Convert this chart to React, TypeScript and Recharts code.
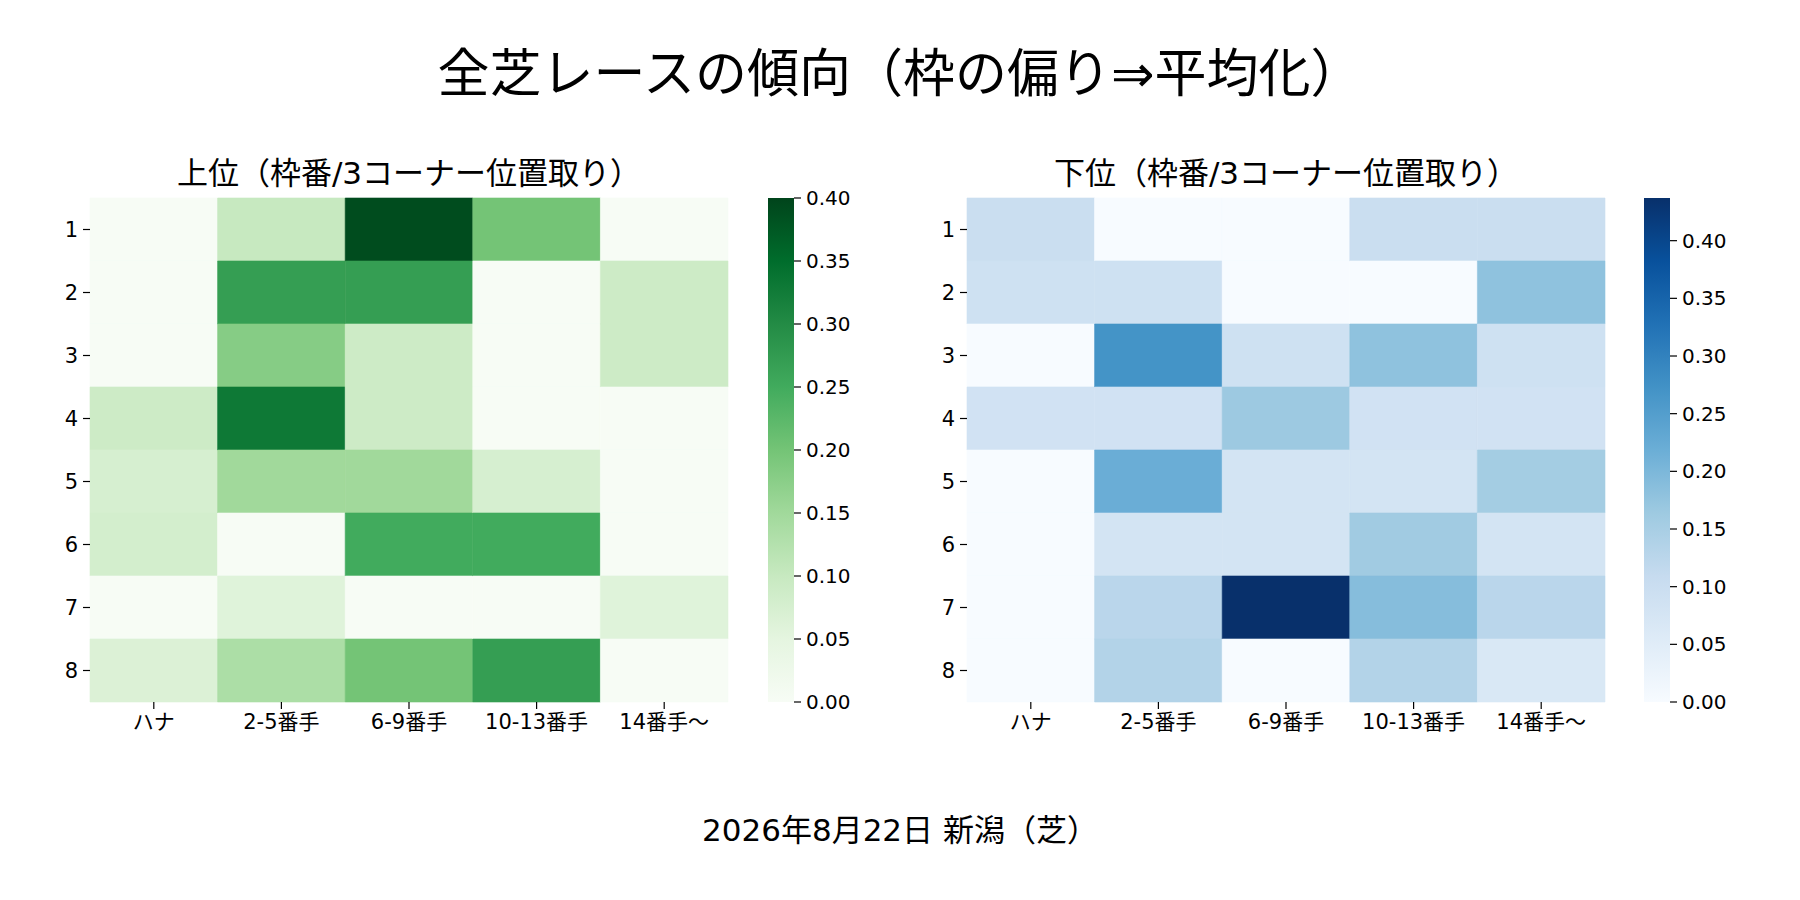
import React from 'react';
import { BarChart, Bar, XAxis, YAxis, Cell } from 'recharts';

const FONT = '"DejaVu Sans", "Noto Sans CJK JP", sans-serif';

const rowLabels = ['1', '2', '3', '4', '5', '6', '7', '8'];
const positionLabels = ['ハナ', '2-5番手', '6-9番手', '10-13番手', '14番手〜'];

const upperValues = [
  [0, 0.1, 0.39, 0.2, 0],
  [0, 0.27, 0.27, 0, 0.09],
  [0, 0.18, 0.09, 0, 0.09],
  [0.09, 0.33, 0.09, 0, 0],
  [0.075, 0.15, 0.15, 0.075, 0],
  [0.08, 0, 0.25, 0.25, 0],
  [0, 0.06, 0, 0, 0.06],
  [0.065, 0.135, 0.2, 0.27, 0],
];

const lowerValues = [
  [0.1, 0, 0, 0.1, 0.1],
  [0.09, 0.09, 0, 0, 0.18],
  [0, 0.27, 0.09, 0.18, 0.09],
  [0.085, 0.085, 0.165, 0.085, 0.085],
  [0, 0.22, 0.08, 0.08, 0.155],
  [0, 0.08, 0.08, 0.16, 0.08],
  [0, 0.125, 0.437, 0.19, 0.125],
  [0, 0.135, 0, 0.135, 0.065],
];

const upperMax = 0.4;
const lowerMax = 0.437;
const colorbarTicks = [0, 0.05, 0.1, 0.15, 0.2, 0.25, 0.3, 0.35, 0.4];

const GREENS = ['#f7fcf5', '#e5f5e0', '#c7e9c0', '#a1d99b', '#74c476', '#41ab5d', '#238b45', '#006d2c', '#00441b'];
const BLUES = ['#f7fbff', '#deebf7', '#c6dbef', '#9ecae1', '#6baed6', '#4292c6', '#2171b5', '#08519c', '#08306b'];

function hexToRgb(h: string) {
  const n = parseInt(h.slice(1), 16);
  return [(n >> 16) & 255, (n >> 8) & 255, n & 255];
}

function cmap(stops: string[], t: number) {
  const c = Math.max(0, Math.min(1, t));
  const pos = c * (stops.length - 1);
  const i = Math.min(stops.length - 2, Math.floor(pos));
  const f = pos - i;
  const a = hexToRgb(stops[i]);
  const b = hexToRgb(stops[i + 1]);
  const r = a.map((v, k) => Math.round(v + (b[k] - v) * f));
  return `rgb(${r[0]},${r[1]},${r[2]})`;
}

const colKeys = positionLabels.map((_, j) => `c${j}`);

function makeRows() {
  return rowLabels.map((r) => {
    const o: any = { row: r };
    colKeys.forEach((k) => (o[k] = 1));
    return o;
  });
}

const tickStyle = { fill: '#000', fontSize: 21, fontFamily: FONT };

function Heatmap({ values, vmax, stops, left }: { values: number[][]; vmax: number; stops: string[]; left: number }) {
  const data = makeRows();
  return (
    <div style={{ position: 'absolute', left: 0, top: 0 }}>
      <BarChart
        width={left + 90 + 638 + 12}
        height={760}
        data={data}
        layout="vertical"
        barCategoryGap={0}
        barGap={0}
        margin={{ top: 198, right: 12, bottom: 18, left }}
      >
        <XAxis
          type="number"
          domain={[0, 5]}
          ticks={[0.5, 1.5, 2.5, 3.5, 4.5]}
          interval={0}
          tickFormatter={(v: number) => positionLabels[Math.floor(v)]}
          axisLine={false}
          tickSize={7}
          tickMargin={5}
          height={40}
          tick={tickStyle}
          tickLine={{ stroke: '#000', strokeWidth: 1.2 }}
        />
        <YAxis
          type="category"
          dataKey="row"
          width={90}
          axisLine={false}
          tickSize={7}
          tickMargin={5}
          interval={0}
          tick={tickStyle}
          tickLine={{ stroke: '#000', strokeWidth: 1.2 }}
        />
        {colKeys.map((k, j) => (
          <Bar key={k} dataKey={k} stackId="a" isAnimationActive={false}>
            {values.map((row, i) => {
              const col = cmap(stops, row[j] / vmax);
              return <Cell key={i} fill={col} stroke={col} strokeWidth={0.6} />;
            })}
          </Bar>
        ))}
      </BarChart>
    </div>
  );
}

function Colorbar({ vmax, stops, left, id }: { vmax: number; stops: string[]; left: number; id: string }) {
  const data = [{ name: 'cb', v: vmax }];
  return (
    <div style={{ position: 'absolute', left: 0, top: 0 }}>
      <BarChart
        width={left + 26 + 80}
        height={760}
        data={data}
        barCategoryGap={0}
        margin={{ top: 198, right: 0, bottom: 58, left }}
      >
        <defs>
          <linearGradient id={id} x1="0" y1="1" x2="0" y2="0">
            {stops.map((s, i) => (
              <stop key={i} offset={`${(i / (stops.length - 1)) * 100}%`} stopColor={s} />
            ))}
          </linearGradient>
        </defs>
        <XAxis dataKey="name" hide />
        <YAxis
          type="number"
          orientation="right"
          domain={[0, vmax]}
          ticks={colorbarTicks}
          interval={0}
          width={80}
          axisLine={false}
          tickSize={7}
          tickMargin={5}
          tickFormatter={(v: number) => v.toFixed(2)}
          tick={{ fill: '#000', fontSize: 20, fontFamily: FONT, textAnchor: 'start' }}
          tickLine={{ stroke: '#000', strokeWidth: 1.2 }}
        />
        <Bar dataKey="v" fill={`url(#${id})`} isAnimationActive={false} />
      </BarChart>
    </div>
  );
}

export default function App() {
  return (
    <div style={{ position: 'absolute', left: 0, top: 0, width: 1800, height: 900, background: '#fff', fontFamily: FONT }}>
      <Heatmap values={upperValues} vmax={upperMax} stops={GREENS} left={0} />
      <Colorbar vmax={upperMax} stops={GREENS} left={768} id="gGreen" />
      <Heatmap values={lowerValues} vmax={lowerMax} stops={BLUES} left={877} />
      <Colorbar vmax={lowerMax} stops={BLUES} left={1644} id="gBlue" />
      <svg width={1800} height={900} style={{ position: 'absolute', left: 0, top: 0, pointerEvents: 'none' }}>
        <text x={900} y={74} textAnchor="middle" dominantBaseline="central" fontSize={52} fontFamily={FONT} fill="#000">
          全芝レースの傾向（枠の偏り⇒平均化）
        </text>
        <text x={409} y={173} textAnchor="middle" dominantBaseline="central" fontSize={31} fontFamily={FONT} fill="#000">
          上位（枠番/3コーナー位置取り）
        </text>
        <text x={1286} y={173} textAnchor="middle" dominantBaseline="central" fontSize={31} fontFamily={FONT} fill="#000">
          下位（枠番/3コーナー位置取り）
        </text>
        <text x={900} y={830} textAnchor="middle" dominantBaseline="central" fontSize={31} fontFamily={FONT} fill="#000">
          2026年8月22日 新潟（芝）
        </text>
      </svg>
    </div>
  );
}
